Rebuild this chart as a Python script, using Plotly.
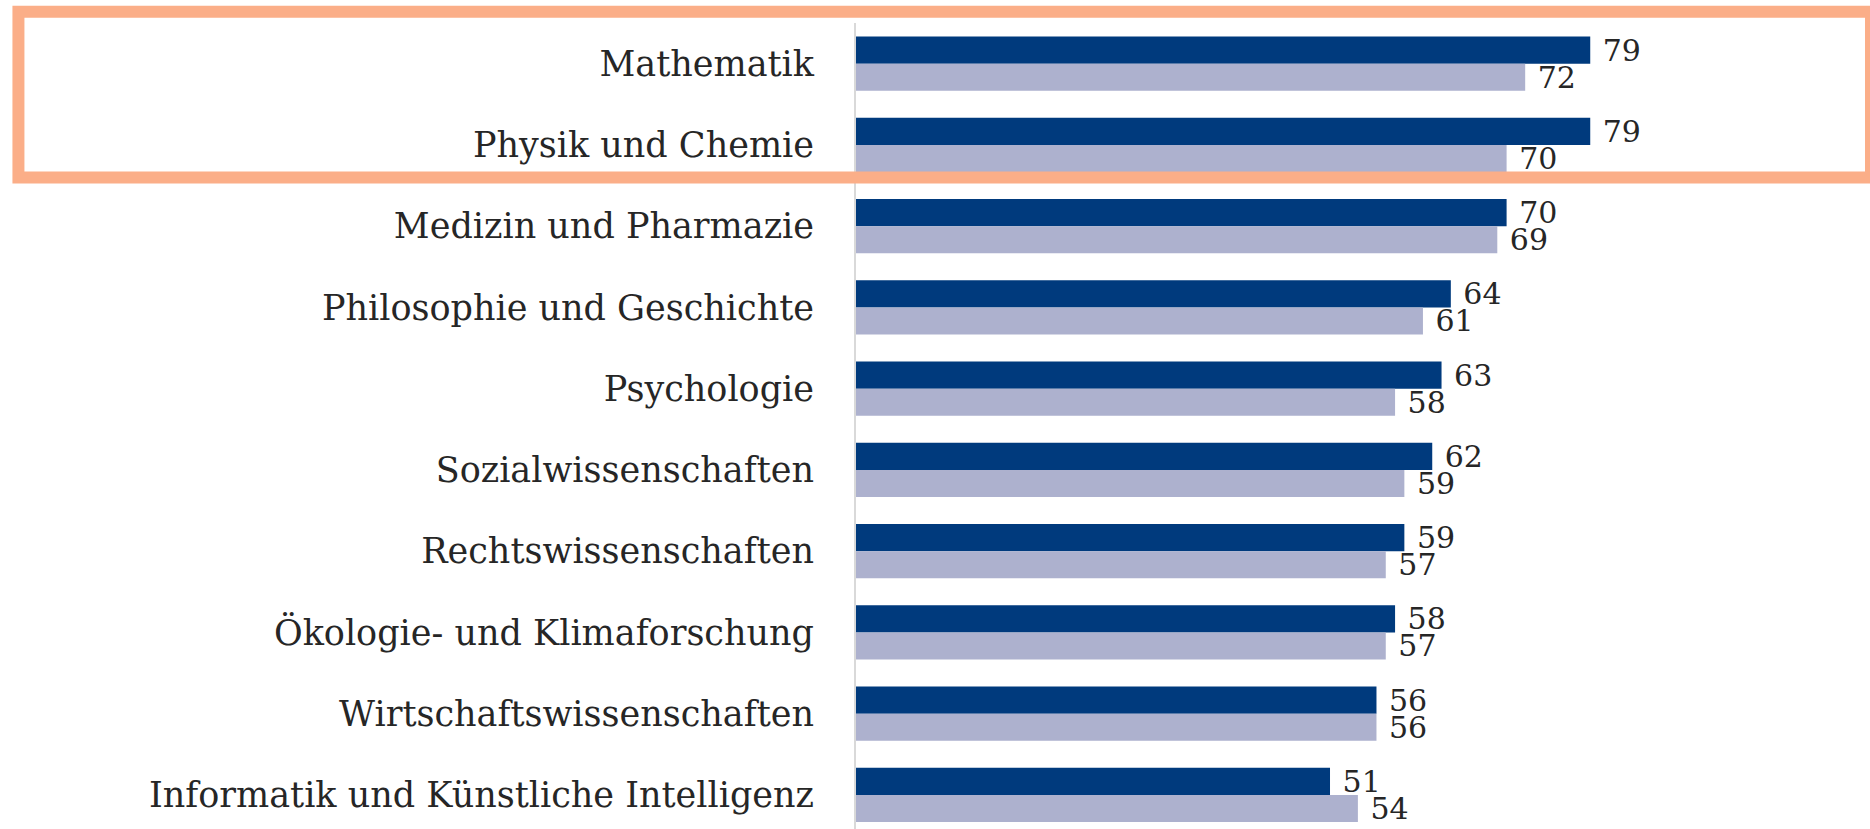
import plotly.graph_objects as go

categories = [
    "Mathematik",
    "Physik und Chemie",
    "Medizin und Pharmazie",
    "Philosophie und Geschichte",
    "Psychologie",
    "Sozialwissenschaften",
    "Rechtswissenschaften",
    "Ökologie- und Klimaforschung",
    "Wirtschaftswissenschaften",
    "Informatik und Künstliche Intelligenz",
]
series_a = [79, 79, 70, 64, 63, 62, 59, 58, 56, 51]
series_b = [72, 70, 69, 61, 58, 59, 57, 57, 56, 54]

DARK = "#003A7D"
LIGHT = "#ADB1CE"
ORANGE = "#FBAE88"
FONT = "DejaVu Serif"
TXT = "#262626"

fig = go.Figure()
for vals, col in ((series_a, DARK), (series_b, LIGHT)):
    fig.add_trace(go.Bar(
        y=categories, x=vals, orientation="h", marker=dict(color=col, line=dict(width=0)),
        text=vals, texttemplate="\u00a0%{x}", textposition="outside",
        textfont=dict(family=FONT, size=30, color=TXT), constraintext="none", cliponaxis=False,
        showlegend=False, hoverinfo="skip",
    ))

fig.update_layout(
    width=1870, height=829,
    margin=dict(l=856, r=0, t=23, b=0, pad=0),
    paper_bgcolor="white", plot_bgcolor="white",
    barmode="group", bargap=0.335, bargroupgap=0,
    font=dict(family=FONT, color=TXT),
    xaxis=dict(range=[0, 109.1], showgrid=False, zeroline=False, showticklabels=False, showline=False),
    yaxis=dict(
        categoryorder="array", categoryarray=categories,
        range=[9.42, -0.5], showgrid=False, zeroline=False,
        showline=True, linecolor="#D9D9D9", linewidth=2,
        ticks="", ticklabelstandoff=33,
        tickfont=dict(family=FONT, size=35, color=TXT),
    ),
    shapes=[dict(
        type="rect", xref="paper", yref="paper",
        x0=-0.826, x1=1.001, y0=0.8083, y1=1.014,
        line=dict(color=ORANGE, width=12), fillcolor="rgba(0,0,0,0)", layer="above",
    )],
)

fig.write_html(
    "out.html",
    config={"displayModeBar": False},
    post_script="document.body.style.margin='0';document.body.style.overflow='hidden';",
)
